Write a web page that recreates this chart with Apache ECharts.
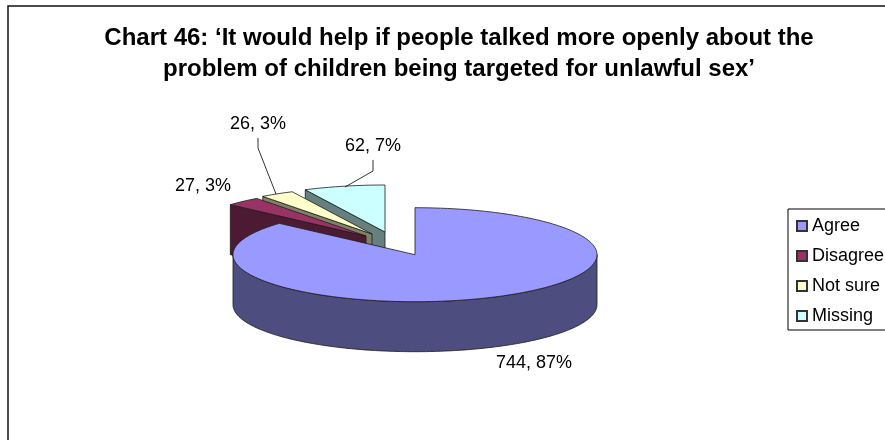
<!DOCTYPE html>
<html><head><meta charset="utf-8">
<script src="https://cdn.jsdelivr.net/npm/echarts@6/dist/echarts.min.js"></script>
<style>html,body{margin:0;padding:0;background:#fff}#c{width:885px;height:440px}</style></head>
<body><div id="c"></div>
<script>
const titleLines = ["Chart 46: ‘It would help if people talked more openly about the", "problem of children being targeted for unlawful sex’"];
const categories = ["Agree", "Disagree", "Not sure", "Missing"];
const values = [744, 27, 26, 62];
const percents = [87, 3, 3, 7];
const topColors = ["#9999FF", "#993366", "#FFFFCC", "#CCFFFF"];
const sideColors = ["#4D4D80", "#4D1A33", "#808066", "#668080"];

const RX = 182, RY = 47, DEPTH = 50, EDGE = "#1a1a1a";
const apexes = [[415, 254.7], [366, 236], [372, 234], [385, 232]];
const labelPos = [[534, 363], [203, 186], [258, 124], [373, 146]];
const leaders = [null, null, [[258, 138], [258, 148], [276, 194]], [[373, 160], [373, 171], [345, 187]]];
const total = values.reduce((a, b) => a + b, 0);
const starts = values.map((_, i) => values.slice(0, i).reduce((a, b) => a + b, 0) / total * 2 * Math.PI);
const ends = values.map((_, i) => values.slice(0, i + 1).reduce((a, b) => a + b, 0) / total * 2 * Math.PI);

function pt(c, a, dy) { return [c[0] + RX * Math.sin(a), c[1] - RY * Math.cos(a) + (dy || 0)]; }
function arc(c, a0, a1, dy) {
  const n = Math.max(2, Math.ceil((a1 - a0) / 0.02)), out = [];
  for (let k = 0; k <= n; k++) out.push(pt(c, a0 + (a1 - a0) * k / n, dy));
  return out;
}
function poly(points, fill) {
  return { type: "polygon", shape: { points }, style: { fill, stroke: EDGE, lineWidth: 0.8 } };
}
function makeRender(i) {
  return function (params, api) {
    const c = apexes[i], a0 = starts[i], a1 = ends[i], children = [];
    const v = api.value(0);
    if (i === 0) {
      const wa0 = Math.PI / 2, wa1 = 3 * Math.PI / 2;
      children.push(poly(arc(c, wa0, wa1, 0).concat(arc(c, wa0, wa1, DEPTH).reverse()), sideColors[i]));
    } else {
      const p = pt(c, a0);
      children.push(poly([p, c, [c[0], c[1] + DEPTH], [p[0], p[1] + DEPTH]], sideColors[i]));
    }
    children.push(poly([c].concat(arc(c, a0, a1)), topColors[i]));
    if (leaders[i]) children.push({ type: "polyline", shape: { points: leaders[i] }, style: { stroke: "#000", lineWidth: 0.8, fill: null } });
    children.push({ type: "text", style: { text: v + ", " + percents[i] + "%", x: labelPos[i][0], y: labelPos[i][1], align: "center", verticalAlign: "middle", fill: "#000", font: '18px "Liberation Sans"' } });
    return { type: "group", children };
  };
}
const chart = echarts.init(document.getElementById("c"), null, { renderer: "canvas" });
chart.setOption({
  animation: false,
  backgroundColor: "#fff",
  color: topColors,
  textStyle: { fontFamily: "Liberation Sans" },
  title: {
    text: titleLines.join("\n"), left: 454, top: 17.5, textAlign: "center",
    textStyle: { fontSize: 24, fontWeight: "bold", color: "#000", fontFamily: "Liberation Sans", lineHeight: 31 }
  },
  legend: {
    orient: "vertical", left: 788, top: 209, data: categories, selectedMode: false, icon: "rect",
    itemWidth: 10, itemHeight: 10, itemGap: 12, padding: [8, 30, 5, 8],
    borderColor: "#000", borderWidth: 1, backgroundColor: "#fff",
    textStyle: { fontSize: 18, color: "#000", fontFamily: "Liberation Sans", padding: [0, 0, 0, 0] }
  },
  graphic: [{ type: "rect", z: -1, shape: { x: 8, y: 6, width: 1000, height: 1000 }, style: { fill: "#fff", stroke: "#111", lineWidth: 1.5 } }],
  series: [3, 2, 1, 0].map((i, order) => ({
    type: "custom", name: categories[i], coordinateSystem: "none", z: 2 + order,
    itemStyle: { color: topColors[i], borderColor: "#333", borderWidth: 1 },
    data: [[values[i]]], renderItem: makeRender(i), silent: true
  }))
});
</script></body></html>
